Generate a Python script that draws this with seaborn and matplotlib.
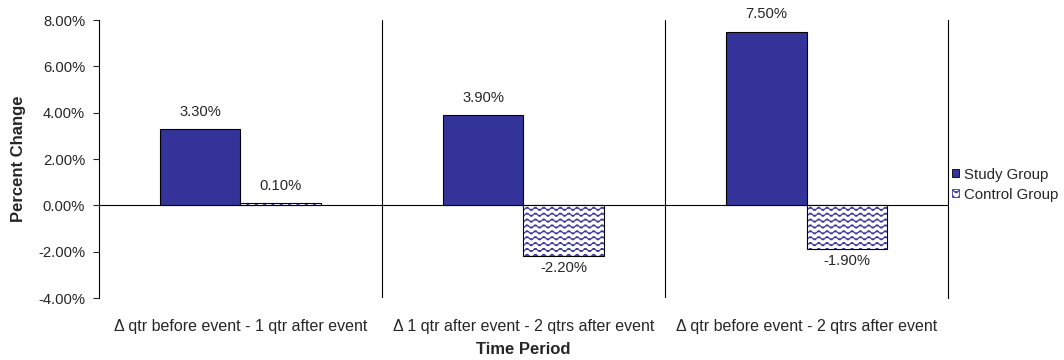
import warnings
import numpy as np
import pandas as pd
import seaborn as sns
import matplotlib.pyplot as plt
import matplotlib.hatch as mhatch
from matplotlib.path import Path
from matplotlib.patches import Patch, Rectangle
from matplotlib.ticker import FuncFormatter

warnings.filterwarnings("ignore")

periods = ["\u0394 qtr before event - 1 qtr after event",
           "\u0394 1 qtr after event - 2 qtrs after event",
           "\u0394 qtr before event - 2 qtrs after event"]
groups = ["Study Group", "Control Group"]
study = [3.3, 3.9, 7.5]
control = [0.1, -2.2, -1.9]
yticks = [-4, -2, 0, 2, 4, 6, 8]

navy = "#333399"
wave_blue = "#3a3aa0"


# wavy hatch like the Excel "wave" fill
class WaveHatch(mhatch.HatchPatternBase):
    def __init__(self, hatch, density):
        self.rows = 17 if "~" in hatch else 0
        self.npts = 12 * 6 + 1
        self.num_vertices = self.rows * self.npts

    def set_vertices_and_codes(self, vertices, codes):
        xs = np.linspace(0, 1, self.npts)
        n = self.npts
        for i in range(self.rows):
            y0 = (i + 0.5) / self.rows
            vertices[i * n:(i + 1) * n, 0] = xs
            vertices[i * n:(i + 1) * n, 1] = y0 + 0.017 * np.sin(2 * np.pi * 12 * xs)
            codes[i * n] = Path.MOVETO
            codes[i * n + 1:(i + 1) * n] = Path.LINETO


mhatch._hatch_types.append(WaveHatch)

sns.set_style("white")
plt.rcParams["font.family"] = ["Liberation Sans", "DejaVu Sans"]
plt.rcParams["hatch.linewidth"] = 0.8

df = pd.DataFrame({
    "period": periods * 2,
    "group": [groups[0]] * 3 + [groups[1]] * 3,
    "value": study + control,
})

fig = plt.figure(figsize=(10.64, 3.6), dpi=100)
ax = fig.add_axes([0.093, 0.172, 0.798, 0.772])

sns.barplot(data=df, x="period", y="value", hue="group", order=periods,
            hue_order=groups, palette=[navy, "white"], width=0.57,
            edgecolor="black", linewidth=0.8, saturation=1, legend=False, ax=ax)

# control bars: blue wavy fill, black outline
for p in ax.containers[1]:
    p.set_hatch("~")
    p.set_edgecolor(wave_blue)
    p.set_linewidth(0)
    ax.add_patch(Rectangle(p.get_xy(), p.get_width(), p.get_height(),
                           fill=False, ec="black", lw=0.8, zorder=p.get_zorder() + 0.1))

# value labels: a bit more room above positive bars than below negative ones
for c in ax.containers:
    vals = list(c.datavalues)
    ax.bar_label(c, labels=[f"{v:.2f}%" if v >= 0 else "" for v in vals],
                 padding=7.5, fontsize=10.6)
    ax.bar_label(c, labels=[f"{v:.2f}%" if v < 0 else "" for v in vals],
                 padding=3, fontsize=10.6)

ax.set_xlim(-0.5, 2.5)
ax.set_ylim(-4, 8)
ax.set_yticks(yticks)
ax.yaxis.set_major_formatter(FuncFormatter(lambda v, _: f"{v:.2f}%"))
ax.tick_params(axis="y", left=True, length=4, width=0.8, labelsize=10.6, pad=6)
ax.tick_params(axis="x", bottom=False, length=0, labelsize=11.5, pad=15)

ax.axhline(0, color="black", lw=0.8, zorder=0.5)
for xv in [0.5, 1.5]:
    ax.axvline(xv, color="black", lw=0.8, zorder=0.5)

for s in ["top", "bottom"]:
    ax.spines[s].set_visible(False)
for s in ["left", "right"]:
    ax.spines[s].set_color("black")
    ax.spines[s].set_linewidth(0.8)

ax.set_ylabel("Percent Change", fontsize=12, fontweight="bold")
ax.set_xlabel("Time Period", fontsize=12, fontweight="bold")
ax.yaxis.set_label_coords(-0.086, 0.5)
ax.xaxis.set_label_coords(0.5, -0.158)

handles = [Patch(facecolor=navy, edgecolor="black", lw=0.6),
           Patch(facecolor="white", edgecolor=wave_blue, hatch="~", lw=0.6)]
fig.legend(handles, groups, loc="center left", bbox_to_anchor=(0.895, 0.487),
           frameon=False, fontsize=10.8, handlelength=0.45, handleheight=0.45,
           handletextpad=0.3, labelspacing=0.4, borderpad=0, borderaxespad=0)

fig.savefig("out.png", dpi=100)
